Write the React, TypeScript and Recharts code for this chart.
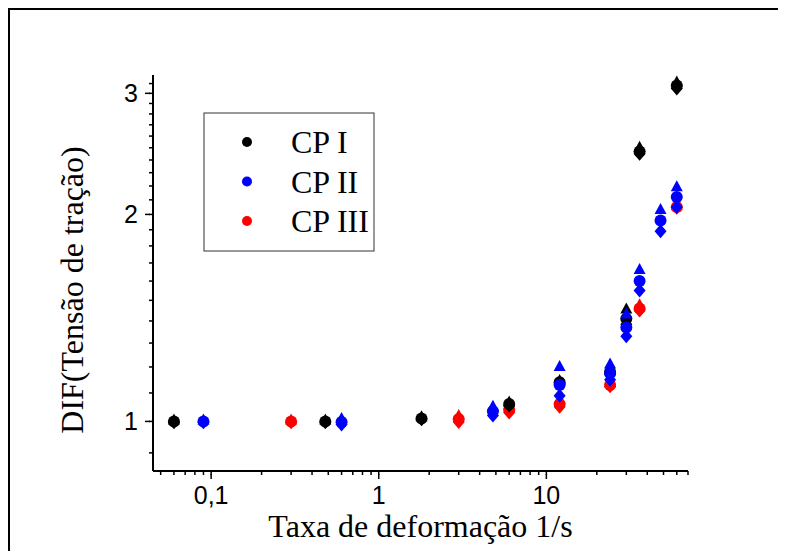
import { ScatterChart, Scatter, XAxis, YAxis } from 'recharts'

const seriesNames = ['CP I', 'CP II', 'CP III']
const seriesColors = ['#000000', '#0000ff', '#ff0000']

// strain rate (1/s) and DIF, three repeat readings per rate (drawn as triangle / circle / diamond)
const cp1Rates = [0.06, 0.48, 1.8, 6, 12, 24, 30, 36, 60]
const cp1Tri = [1.003, 1.003, 1.014, 1.065, 1.145, 1.19, 1.455, 2.5, 3.11]
const cp1Circ = [1.0, 1.0, 1.01, 1.06, 1.14, 1.18, 1.41, 2.47, 3.08]
const cp1Dia = [0.997, 0.997, 1.007, 1.055, 1.135, 1.17, 1.385, 2.45, 3.05]

const cp2Rates = [0.09, 0.6, 4.8, 12, 24, 30, 36, 48, 60]
const cp2Tri = [1.003, 1.008, 1.05, 1.2, 1.21, 1.43, 1.66, 2.03, 2.19]
const cp2Circ = [1.0, 0.998, 1.035, 1.13, 1.175, 1.37, 1.6, 1.96, 2.12]
const cp2Dia = [0.997, 0.99, 1.02, 1.09, 1.15, 1.33, 1.55, 1.89, 2.05]

const cp3Rates = [0.3, 3, 6, 12, 24, 36, 60]
const cp3Tri = [1.003, 1.018, 1.055, 1.075, 1.135, 1.475, 2.055]
const cp3Circ = [1.0, 1.008, 1.04, 1.06, 1.13, 1.46, 2.05]
const cp3Dia = [0.997, 0.998, 1.03, 1.05, 1.125, 1.45, 2.045]

const xMajorTicks = [0.1, 1, 10]
const xMinorTicks = [0.05, 0.06, 0.07, 0.08, 0.09, 0.2, 0.3, 0.4, 0.5, 0.6, 0.7, 0.8, 0.9,
  2, 3, 4, 5, 6, 7, 8, 9, 20, 30, 40, 50, 60, 70]
const yMajorTicks = [1, 2, 3]
const yMinorTicks = [0.9, 1.1, 1.2, 1.3, 1.4, 1.5, 1.6, 1.7, 1.8, 1.9,
  2.1, 2.2, 2.3, 2.4, 2.5, 2.6, 2.7, 2.8, 2.9, 3.1]

const SERIF = '"Liberation Serif", "Times New Roman", serif'
const SANS = '"Liberation Sans", Arial, sans-serif'
const MINOR = 4

const toPoints = (rates: number[], vals: number[]) => rates.map((r, i) => ({ rate: r, dif: vals[i] }))

const groups = [
  { rates: cp1Rates, tri: cp1Tri, circ: cp1Circ, dia: cp1Dia },
  { rates: cp2Rates, tri: cp2Tri, circ: cp2Circ, dia: cp2Dia },
  { rates: cp3Rates, tri: cp3Tri, circ: cp3Circ, dia: cp3Dia },
]
// red first, then black, blue on top
const drawOrder = [2, 0, 1]

const makeShape = (kind: string, color: string) => (props: any) => {
  const { cx, cy } = props
  if (cx == null || cy == null) return <g />
  if (kind === 'tri')
    return <polygon points={`${cx},${cy - 7} ${cx + 6},${cy + 4} ${cx - 6},${cy + 4}`} fill={color} />
  if (kind === 'dia')
    return <polygon points={`${cx},${cy - 7} ${cx + 6},${cy} ${cx},${cy + 7} ${cx - 6},${cy}`} fill={color} />
  return <circle cx={cx} cy={cy} r={6} fill={color} />
}

const fmt = (v: number) => String(v).replace('.', ',')

// recharts draws the short tick for every value; majors get an extension and a label
const XTick = (props: any) => {
  const { x, y, payload } = props
  if (!xMajorTicks.includes(payload.value)) return <g />
  return (
    <g>
      <path d={`M${x},${y - 1}V${y + 4}`} stroke="#000" strokeWidth={1.5} fill="none" />
      <text x={x} y={y + 29} textAnchor="middle" fontFamily={SANS} fontSize={25} fill="#000">
        {fmt(payload.value)}
      </text>
    </g>
  )
}

const YTick = (props: any) => {
  const { x, y, payload } = props
  if (!yMajorTicks.includes(payload.value)) return <g />
  return (
    <g>
      <path d={`M${x + 1},${y}H${x - 4}`} stroke="#000" strokeWidth={1.5} fill="none" />
      <text x={x - 11} y={y + 9} textAnchor="end" fontFamily={SANS} fontSize={25} fill="#000">
        {fmt(payload.value)}
      </text>
    </g>
  )
}

const XTitle = (props: any) => {
  const vb = props.viewBox || { x: 145, width: 535 }
  return (
    <text x={vb.x + vb.width / 2} y={529} textAnchor="middle" fontFamily={SERIF} fontSize={32} fill="#000">
      Taxa de deformação 1/s
    </text>
  )
}

const YTitle = () => (
  <text x={75} y={282} transform="rotate(-90, 75, 282)" textAnchor="middle" fontFamily={SERIF} fontSize={32} fill="#000">
    DIF(Tensão de tração)
  </text>
)

function LegendBox() {
  return (
    <svg width={172} height={140} style={{ position: 'absolute', left: 195, top: 104 }}>
      <rect x={1} y={1} width={170} height={138} fill="#fff" stroke="#333" strokeWidth={1} />
      {seriesNames.map((name, i) => (
        <g key={name}>
          <circle cx={44} cy={30 + i * 39.5} r={5} fill={seriesColors[i]} />
          <text x={88} y={41 + i * 39.5} fontFamily={SERIF} fontSize={32} fill="#000">
            {name}
          </text>
        </g>
      ))}
    </svg>
  )
}

export default function App() {
  return (
    <div style={{ position: 'relative', width: 778, height: 543, overflow: 'hidden', background: '#fff' }}>
      <div
        style={{
          position: 'absolute', left: 0, top: 0, width: 900, height: 700,
          borderTop: '2px solid #000', borderLeft: '2px solid #000',
        }}
      />
      <div style={{ position: 'absolute', left: 0, top: 0 }}>
        <ScatterChart width={778} height={543} margin={{ top: 67, right: 98, bottom: 0, left: 0 }}>
          <XAxis
            type="number"
            dataKey="rate"
            scale="log"
            domain={[0.045, 70]}
            allowDataOverflow
            ticks={[...xMinorTicks, ...xMajorTicks].sort((a, b) => a - b)}
            interval={0}
            tick={<XTick />}
            tickLine={{ stroke: '#000', strokeWidth: 1.5 }}
            tickSize={MINOR}
            tickMargin={0}
            height={80}
            axisLine={{ stroke: '#000', strokeWidth: 2 }}
            label={XTitle}
          />
          <YAxis
            type="number"
            dataKey="dif"
            scale="log"
            domain={[0.847, 3.19]}
            allowDataOverflow
            ticks={[...yMinorTicks, ...yMajorTicks].sort((a, b) => a - b)}
            interval={0}
            tick={<YTick />}
            tickLine={{ stroke: '#000', strokeWidth: 1.5 }}
            tickSize={MINOR}
            tickMargin={0}
            width={145}
            axisLine={{ stroke: '#000', strokeWidth: 2 }}
            label={YTitle}
          />
          {drawOrder.map(gi => {
            const g = groups[gi]
            const color = seriesColors[gi]
            return [
              <Scatter key={`${gi}-d`} name={seriesNames[gi]} data={toPoints(g.rates, g.dia)} shape={makeShape('dia', color)} isAnimationActive={false} />,
              <Scatter key={`${gi}-c`} name={seriesNames[gi]} data={toPoints(g.rates, g.circ)} shape={makeShape('circ', color)} isAnimationActive={false} />,
              <Scatter key={`${gi}-t`} name={seriesNames[gi]} data={toPoints(g.rates, g.tri)} shape={makeShape('tri', color)} isAnimationActive={false} />,
            ]
          })}
        </ScatterChart>
      </div>
      <LegendBox />
    </div>
  )
}
